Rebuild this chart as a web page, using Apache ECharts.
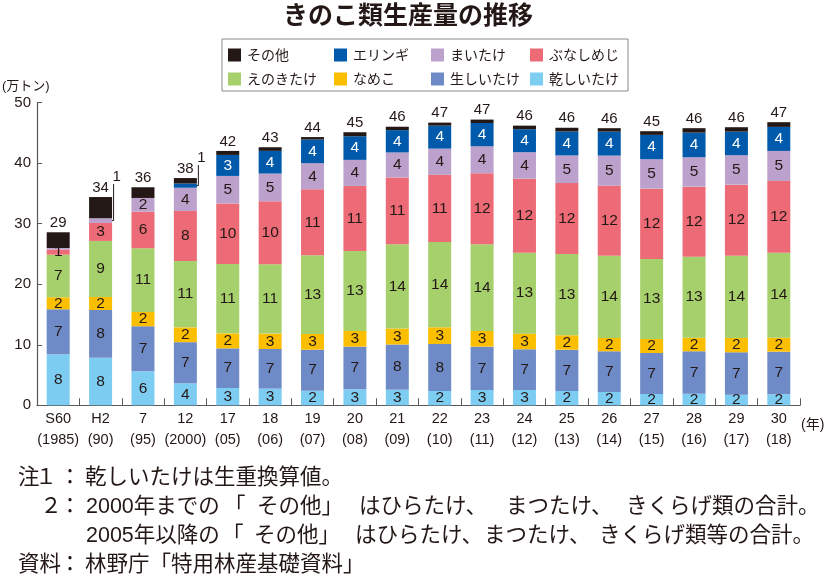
<!DOCTYPE html>
<html>
<head>
<meta charset="utf-8">
<script src="https://cdn.jsdelivr.net/npm/echarts@6/dist/echarts.min.js"></script>
<style>
html,body{margin:0;padding:0;background:#fff;}
#main{width:824px;height:585px;}
</style>
</head>
<body>
<div id="main"></div>
<script>
// ---- data (万トン) ----
const categories = ['S60','H2','7','12','17','18','19','20','21','22','23','24','25','26','27','28','29','30'];
const yearLabels = ['(1985)','(90)','(95)','(2000)','(05)','(06)','(07)','(08)','(09)','(10)','(11)','(12)','(13)','(14)','(15)','(16)','(17)','(18)'];
const yTicks = [0, 10, 20, 30, 40, 50];

const dryShiitake = [8.43, 7.87, 5.62, 3.63, 2.86, 2.75, 2.41, 2.64, 2.55, 2.36, 2.53, 2.53, 2.36, 2.2, 1.87, 1.92, 1.75, 1.82];
const rawShiitake = [7.44, 7.88, 7.44, 6.8, 6.55, 6.55, 6.78, 7.05, 7.5, 7.77, 7.16, 6.73, 6.83, 6.73, 6.77, 7.01, 7.01, 7.04];
const nameko      = [1.98, 2.15, 2.36, 2.45, 2.48, 2.55, 2.6, 2.59, 2.64, 2.76, 2.59, 2.58, 2.38, 2.19, 2.32, 2.24, 2.36, 2.31];
const enoki       = [7.04, 9.26, 10.53, 10.96, 11.46, 11.46, 13.0, 13.22, 13.94, 14.1, 14.33, 13.38, 13.45, 13.61, 13.22, 13.39, 13.61, 14.05];
const bunashimeji = [0.85, 2.97, 6.05, 8.27, 10.0, 10.4, 10.91, 10.75, 11.02, 11.08, 11.74, 12.23, 11.7, 11.57, 11.62, 11.57, 11.73, 11.85];
const maitake     = [0.25, 0.78, 2.26, 3.84, 4.55, 4.58, 4.3, 4.3, 4.13, 4.34, 4.45, 4.37, 4.57, 4.96, 4.86, 4.86, 4.86, 4.96];
const eringi      = [0, 0, 0, 0.7, 3.47, 3.75, 3.92, 3.91, 3.69, 3.8, 3.85, 3.8, 3.96, 3.96, 4.02, 4.07, 3.9, 3.97];
const others      = [2.6, 3.5, 1.77, 0.9, 0.66, 0.6, 0.4, 0.66, 0.56, 0.5, 0.56, 0.59, 0.61, 0.57, 0.61, 0.73, 0.73, 0.78];

const seriesNames = ['乾しいたけ','生しいたけ','なめこ','えのきたけ','ぶなしめじ','まいたけ','エリンギ','その他'];
const seriesData  = [dryShiitake, rawShiitake, nameko, enoki, bunashimeji, maitake, eringi, others];
const seriesColors = ['#7dcdf3','#6f8bc7','#fcbf00','#a6d06b','#ec6b76','#bba1cc','#005aab','#231815'];

const FONT = "'Liberation Sans','Noto Sans CJK JP',sans-serif";
const JP = "'Noto Sans CJK JP',sans-serif";
const INK = '#231815';
const AXIS = '#595757';

const totals = categories.map((c, i) => seriesData.reduce((s, arr) => s + arr[i], 0));

const series = seriesNames.map((name, k) => {
  const isOther = k === seriesNames.length - 1;
  return {
    name: name,
    type: 'bar',
    stack: 'total',
    barWidth: 23,
    data: seriesData[k],
    itemStyle: { color: seriesColors[k] },
    emphasis: { disabled: true },
    label: isOther ? {
      show: true, position: 'top', distance: 2,
      fontSize: 15, color: INK, fontFamily: FONT,
      formatter: p => String(Math.round(totals[p.dataIndex]))
    } : {
      show: true, position: 'inside',
      fontSize: 15.5, color: k === 6 ? '#ffffff' : INK, fontFamily: FONT,
      formatter: p => p.value >= 0.8 ? String(Math.round(p.value)) : ''
    }
  };
});

function lg(name, left, top) {
  return {
    data: [name], left: left, top: top, padding: 0,
    itemWidth: 13, itemHeight: 13, itemGap: 0, icon: 'rect',
    selectedMode: false,
    textStyle: { fontSize: 14, color: INK, fontFamily: JP, padding: [0, 0, 0, 1] }
  };
}

const legends = [
  lg('その他', 228, 48), lg('エリンギ', 334, 48), lg('まいたけ', 431, 48), lg('ぶなしめじ', 530, 48),
  lg('えのきたけ', 228, 72), lg('なめこ', 334, 72), lg('生しいたけ', 431, 72), lg('乾しいたけ', 530, 72)
];

const noteFont = 21.5;
function txt(text, x, y, align) {
  return {
    type: 'text', x: x, y: y, silent: true,
    style: { text: text, fill: INK, fontSize: noteFont, fontFamily: FONT,
      align: align || 'left', verticalAlign: 'middle' }
  };
}

const staticGraphics = [
  { type: 'text', x: 408, y: 14, silent: true,
    style: { text: 'きのこ類生産量の推移', fill: INK, fontSize: 25, fontWeight: 'bold', fontFamily: JP, align: 'center', verticalAlign: 'middle' } },
  { type: 'rect', silent: true, shape: { x: 222, y: 39, width: 406, height: 52 },
    style: { fill: 'none', stroke: '#8a8a8a', lineWidth: 1 } },
  { type: 'text', x: 2, y: 86, silent: true,
    style: { text: '(万トン)', fill: INK, fontSize: 13, fontFamily: FONT, align: 'left', verticalAlign: 'middle' } },
  { type: 'text', x: 801, y: 425, silent: true,
    style: { text: '(年)', fill: INK, fontSize: 14, fontFamily: FONT, align: 'left', verticalAlign: 'middle' } },
  // note 1
  txt('注', 18, 478), txt('１', 46, 478, 'center'), txt('：', 70, 478, 'center'),
  txt('乾しいたけは生重換算値。', 85, 478),
  // note 2 (justified lines, set in pieces)
  txt('２', 51, 507, 'center'), txt('：', 70, 507, 'center'),
  txt('2000年までの', 86, 507), txt('「', 224, 507), txt('その他」', 257, 507), txt('はひらたけ、', 359, 507),
  txt('まつたけ、', 506, 507), txt('きくらげ類の合計。', 626, 507),
  txt('2005年以降の', 86, 536), txt('「', 222, 536), txt('その他」', 254, 536), txt('はひらたけ、', 355, 536),
  txt('まつたけ、', 484, 536), txt('きくらげ類等の合計。', 599, 536),
  // source
  txt('資料', 18, 565), txt('：', 70, 565, 'center'),
  txt('林野庁「特用林産基礎資料」', 85, 565)
];

const option = {
  animation: false,
  backgroundColor: '#ffffff',
  textStyle: { fontFamily: FONT },
  legend: legends,
  grid: { left: 37, right: 24, top: 102.7, bottom: 179.7, containLabel: false },
  xAxis: {
    type: 'category', data: categories,
    axisLine: { lineStyle: { color: AXIS, width: 1.2 } },
    axisTick: { show: true, inside: true, length: 7, lineStyle: { color: AXIS } },
    axisLabel: {
      color: INK, fontSize: 14.5, fontFamily: FONT, margin: 3, lineHeight: 21,
      interval: 0,
      formatter: (v, i) => v + '\n' + yearLabels[i]
    }
  },
  yAxis: {
    type: 'value', min: yTicks[0], max: yTicks[yTicks.length - 1], interval: 10,
    axisLine: { show: true, lineStyle: { color: AXIS, width: 1.2 } },
    axisTick: { show: true, inside: true, length: 5, lineStyle: { color: AXIS } },
    splitLine: { show: false },
    axisLabel: { color: INK, fontSize: 15, fontFamily: FONT, margin: 6 }
  },
  series: series,
  graphic: staticGraphics
};

const chart = echarts.init(document.getElementById('main'), null, { renderer: 'canvas' });
chart.setOption(option);

// small segments labelled outside with a leader line
const leaders = [];
seriesData.forEach((arr, k) => {
  if (k === seriesData.length - 1) return;
  arr.forEach((v, i) => {
    if (v >= 0.5 && v < 0.8) {
      let below = 0;
      for (let j = 0; j < k; j++) below += seriesData[j][i];
      const p = chart.convertToPixel({ xAxisIndex: 0, yAxisIndex: 0 }, [i, below + v / 2]);
      const top = chart.convertToPixel({ xAxisIndex: 0, yAxisIndex: 0 }, [i, totals[i]]);
      const dx = p[0] + 5, cx = p[0] + 13, yTop = top[1] - 13;
      leaders.push({ type: 'circle', silent: true, shape: { cx: dx, cy: p[1], r: 1.6 }, style: { fill: INK } });
      leaders.push({ type: 'polyline', silent: true, shape: { points: [[dx, p[1]], [cx, p[1]], [cx, yTop]] },
        style: { stroke: INK, lineWidth: 1, fill: 'none' } });
      leaders.push({ type: 'text', x: cx + 3, y: top[1] - 20, silent: true,
        style: { text: String(Math.round(v)), fill: INK, fontSize: 15, fontFamily: FONT, align: 'center', verticalAlign: 'middle' } });
    }
  });
});
chart.setOption({ graphic: staticGraphics.concat(leaders) });
</script>
</body>
</html>
